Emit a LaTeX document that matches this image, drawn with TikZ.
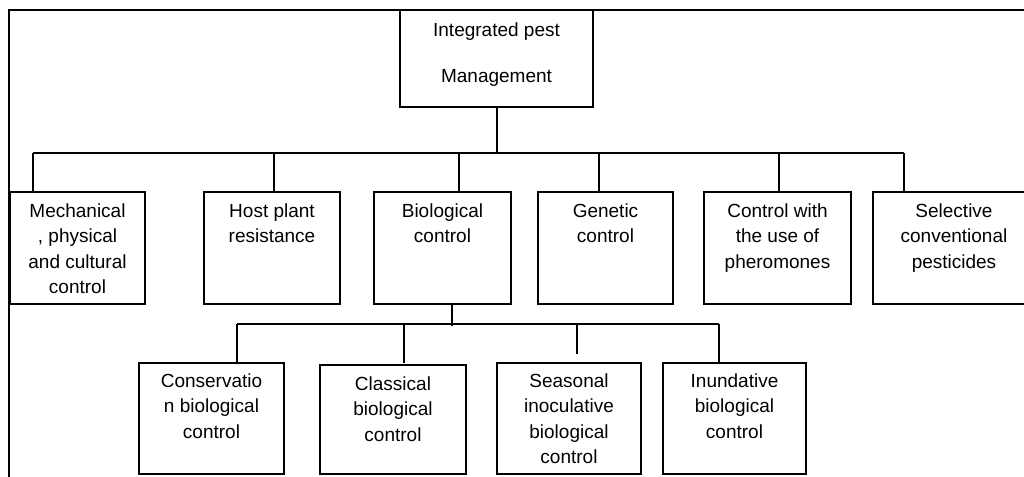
\documentclass[tikz,border=0pt]{standalone}
\usepackage{fontspec}
\setmainfont{Liberation Sans}
\begin{document}
\begin{tikzpicture}[x=1pt,y=-1pt,
  box/.style={draw, line width=1.1pt, inner sep=0pt, minimum width=#1},
  lab/.style={anchor=base, inner sep=0pt, align=center, font=\fontsize{19}{25.3}\selectfont},
  conn/.style={line width=1.1pt}]
\useasboundingbox (0,0) rectangle (1024,476);
\clip (0,0) rectangle (1024,476);
\draw[line width=2pt] (9,10) rectangle (1060,500);
% top
\node[box=193pt, minimum height=97pt, label={[lab, yshift=-73.3pt]north:Integrated pest\\[21pt]Management}] (ipm) at (496.5,58.5) {};
% level 2
\node[box=135pt, minimum height=112pt, label={[lab, yshift=-101.9pt]north:Mechanical\\, physical\\and cultural\\control}] (mech) at (77.5,248) {};
\node[box=136pt, minimum height=112pt, label={[lab, yshift=-51.3pt]north:Host plant\\resistance}] (host) at (272,248) {};
\node[box=137pt, minimum height=112pt, label={[lab, yshift=-51.3pt]north:Biological\\control}] (bio) at (442.5,248) {};
\node[box=135pt, minimum height=112pt, label={[lab, yshift=-51.3pt]north:Genetic\\control}] (gen) at (605.5,248) {};
\node[box=147pt, minimum height=112pt, label={[lab, yshift=-76.6pt]north:Control with\\the use of\\pheromones}] (pher) at (777.5,248) {};
\node[box=162pt, minimum height=112pt, label={[lab, yshift=-76.6pt]north:Selective\\conventional\\pesticides}] (sel) at (954,248) {};
% level 3
\node[box=145pt, minimum height=111pt, label={[lab, yshift=-75.6pt]north:Conservatio\\n biological\\control}] (cons) at (211.5,418.5) {};
\node[box=146pt, minimum height=109pt, label={[lab, yshift=-76.6pt]north:Classical\\biological\\control}] (class) at (393,419.5) {};
\node[box=144pt, minimum height=111pt, label={[lab, yshift=-100.9pt]north:Seasonal\\inoculative\\biological\\control}] (seas) at (569,418.5) {};
\node[box=143pt, minimum height=111pt, label={[lab, yshift=-75.6pt]north:Inundative\\biological\\control}] (inund) at (734.5,418.5) {};
% connectors level 1
\coordinate (b0) at (497,153);
\coordinate (bL) at (33,153);
\coordinate (bR) at (904,153);
\coordinate (d2) at (274,153);
\coordinate (d3) at (459,153);
\coordinate (d4) at (599,153);
\coordinate (d5) at (779,153);
\draw[conn] (ipm.south -| b0) -- (b0);
\draw[conn] (bL) -- (bR);
\draw[conn] (bL) -- (bL |- mech.north);
\draw[conn] (d2) -- (d2 |- host.north);
\draw[conn] (d3) -- (d3 |- bio.north);
\draw[conn] (d4) -- (d4 |- gen.north);
\draw[conn] (d5) -- (d5 |- pher.north);
\draw[conn] (bR) -- (bR |- sel.north);
% connectors level 2
\coordinate (e0) at (452,326);
\coordinate (eL) at (237,324);
\coordinate (eR) at (719,324);
\coordinate (e2) at (404,324);
\coordinate (e3) at (577,324);
\coordinate (e3end) at (577,354);
\draw[conn] (e0 |- bio.south) -- (e0);
\draw[conn] (eL) -- (eR);
\draw[conn] (eL) -- (eL |- cons.north);
\draw[conn] (e2) -- (404,363);
\draw[conn] (e3) -- (e3end);
\draw[conn] (eR) -- (eR |- inund.north);
\end{tikzpicture}
\end{document}
